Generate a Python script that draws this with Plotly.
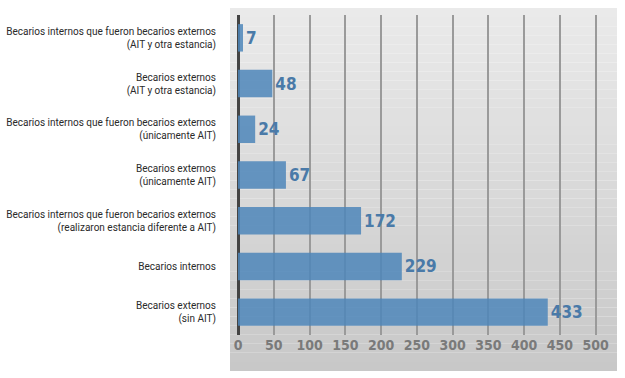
import plotly.graph_objects as go

categories = [
    "Becarios internos que fueron becarios externos<br>(AIT y otra estancia)",
    "Becarios externos<br>(AIT y otra estancia)",
    "Becarios internos que fueron becarios externos<br>(únicamente AIT)",
    "Becarios externos<br>(únicamente AIT)",
    "Becarios internos que fueron becarios externos<br>(realizaron estancia diferente a AIT)",
    "Becarios internos",
    "Becarios externos<br>(sin AIT)",
]
values = [7, 48, 24, 67, 172, 229, 433]
tick_vals = [0, 50, 100, 150, 200, 250, 300, 350, 400, 450, 500]

W, H = 625, 378
ml, mr, mt, mb = 238, 15, 15, 43
NUMFONT = "DejaVu Sans Condensed, Liberation Sans Narrow, Roboto, sans-serif"

fig = go.Figure()
fig.add_trace(go.Bar(
    y=categories, x=values, orientation="h",
    marker=dict(color="rgba(78,134,186,0.85)", line=dict(width=0)),
    width=0.6,
    text=[f"<b>{v}</b>" for v in values], textposition="outside",
    textfont=dict(family=NUMFONT, size=17, color="#4a7aa8"),
    cliponaxis=False,
    hoverinfo="skip",
))

# gradient background panel
x0p, x1p, y0p, y1p = 230, 617, 8, 371
pw = W - ml - mr
ph = H - mt - mb
def px2paperx(px):
    return (px - ml) / pw
def py2papery(py):
    return 1 - (py - mt) / ph
n = 40
shapes = []
for i in range(n):
    t = i / (n - 1)
    c = int(round(234 - t * (234 - 200)))
    ya = y0p + (y1p - y0p) * i / n
    yb = y0p + (y1p - y0p) * (i + 1) / n
    shapes.append(dict(type="rect", xref="paper", yref="paper",
                       x0=px2paperx(x0p), x1=px2paperx(x1p),
                       y0=py2papery(yb), y1=py2papery(ya),
                       fillcolor=f"rgb({c},{c},{c})", line=dict(width=0), layer="below"))
fig.update_layout(shapes=shapes)

fig.update_layout(
    width=W, height=H,
    margin=dict(l=ml, r=mr, t=mt, b=mb, pad=0, autoexpand=False),
    paper_bgcolor="white", plot_bgcolor="rgba(0,0,0,0)",
    showlegend=False,
    xaxis=dict(range=[0, 520], tickvals=tick_vals, showgrid=True,
               gridcolor="#9a9a9a", gridwidth=1.5,
               zeroline=True, zerolinecolor="#444", zerolinewidth=3,
               showline=False, ticks="", automargin=False,
               ticktext=[f"<b>{v}</b>" for v in tick_vals],
               tickfont=dict(family=NUMFONT, size=14, color="#7a7a7a"),
               fixedrange=True),
    yaxis=dict(autorange="reversed", showgrid=False, ticks="", showline=False,
               ticklabelstandoff=21, automargin=False,
               tickfont=dict(family="Roboto", size=10, color="#2a2a2a"),
               fixedrange=True),
)
fig.update_xaxes(tickmode="array")

fig.write_html("out.html", config={"displayModeBar": False},
               post_script="document.body.style.margin='0';document.body.style.padding='0';")
